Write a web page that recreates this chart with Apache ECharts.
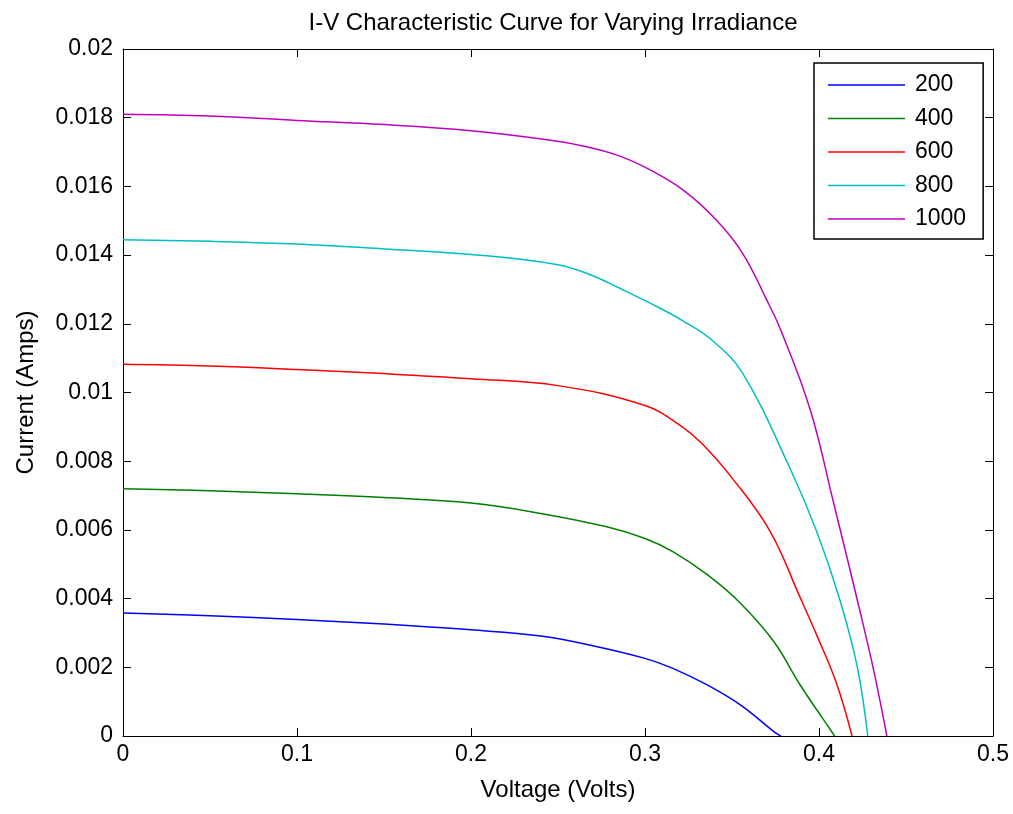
<!DOCTYPE html>
<html><head><meta charset="utf-8">
<script src="https://cdn.jsdelivr.net/npm/echarts@6/dist/echarts.min.js"></script>
<style>html,body{margin:0;padding:0;background:#fff}#c{width:1013px;height:814px}</style>
</head><body><div id="c"></div>
<script>
const seriesNames = ['200', '400', '600', '800', '1000'];
const xTicks = [0, 0.1, 0.2, 0.3, 0.4, 0.5];
const iv200 = [[0,0.00358],[0.05,0.00350],[0.1,0.00339],[0.15,0.00326],[0.2,0.00309],[0.24,0.00291],[0.268,0.00265],[0.3,0.00226],[0.316,0.00197],[0.336,0.00148],[0.355,0.00090],[0.374,0.00013],[0.378,0]];
const iv400 = [[0,0.00720],[0.05,0.00714],[0.1,0.00705],[0.15,0.00694],[0.2,0.00678],[0.24,0.00648],[0.278,0.00609],[0.3,0.00575],[0.316,0.00537],[0.336,0.00469],[0.355,0.00386],[0.374,0.00275],[0.389,0.00150],[0.402,0.00052],[0.409,0]];
const iv600 = [[0,0.01082],[0.05,0.01077],[0.1,0.01067],[0.15,0.01055],[0.2,0.01040],[0.25,0.01020],[0.3,0.00962],[0.32,0.00905],[0.333,0.00850],[0.351,0.00745],[0.372,0.00595],[0.389,0.00405],[0.399,0.00290],[0.41,0.00154],[0.419,0]];
const iv800 = [[0,0.01445],[0.05,0.01440],[0.1,0.01432],[0.15,0.01418],[0.2,0.01402],[0.25,0.01372],[0.27,0.01340],[0.284,0.01307],[0.303,0.01260],[0.322,0.01208],[0.339,0.01150],[0.356,0.01057],[0.383,0.00783],[0.399,0.00591],[0.412,0.00396],[0.422,0.00201],[0.428,0]];
const iv1000 = [[0,0.01810],[0.05,0.01805],[0.1,0.01792],[0.15,0.01780],[0.2,0.01762],[0.245,0.01735],[0.265,0.01717],[0.284,0.01691],[0.303,0.01648],[0.322,0.01589],[0.341,0.01502],[0.356,0.01406],[0.37,0.01269],[0.378,0.01182],[0.395,0.00949],[0.408,0.00687],[0.422,0.00396],[0.431,0.00201],[0.439,0]];
const colors = ['#0000ff', '#008000', '#ff0000', '#00bfbf', '#bf00bf'];
const allData = [iv200, iv400, iv600, iv800, iv1000];

const font = 'Liberation Sans, Arial, sans-serif';
const chart = echarts.init(document.getElementById('c'));
const baseAxis = {
  axisLine: {show: true, onZero: false, lineStyle: {color: '#000', width: 1}},
  axisTick: {show: true, inside: true, length: 8, lineStyle: {color: '#000'}},
  splitLine: {show: false},
  axisLabel: {color: '#000', fontSize: 23, fontFamily: font}
};
chart.setOption({
  animation: false,
  backgroundColor: '#fff',
  title: {text: 'I-V Characteristic Curve for Varying Irradiance', left: 548, textAlign: 'center', top: 6,
    textStyle: {fontSize: 24, fontWeight: 'normal', color: '#000', fontFamily: font}},
  grid: {left: 123, right: 20, top: 49, bottom: 78},
  legend: {
    orient: 'vertical', left: 814, top: 63, data: seriesNames,
    icon: 'rect',
    borderColor: '#000', borderWidth: 1.5, borderRadius: 0, backgroundColor: '#fff',
    padding: [10, 17, 8, 14], itemWidth: 77, itemHeight: 1.5, itemGap: 9.5,
    textStyle: {fontSize: 23, lineHeight: 24, color: '#000', fontFamily: font, padding: [0, 0, 0, 5]}
  },
  xAxis: [
    Object.assign({}, baseAxis, {type: 'value', min: 0, max: 0.5, interval: 0.1, position: 'bottom',
      name: 'Voltage (Volts)', nameLocation: 'middle', nameGap: 42,
      nameTextStyle: {fontSize: 24, color: '#000', fontFamily: font},
      axisLabel: {color: '#000', fontSize: 23, fontFamily: font, margin: 7}}),
    Object.assign({}, baseAxis, {type: 'value', min: 0, max: 0.5, interval: 0.1, position: 'top',
      axisLabel: {show: false}})
  ],
  yAxis: [
    Object.assign({}, baseAxis, {type: 'value', min: 0, max: 0.02, interval: 0.002, position: 'left',
      name: 'Current (Amps)', nameLocation: 'middle', nameGap: 85,
      nameTextStyle: {fontSize: 24, color: '#000', fontFamily: font},
      axisLabel: {color: '#000', fontSize: 23, fontFamily: font, margin: 10}}),
    Object.assign({}, baseAxis, {type: 'value', min: 0, max: 0.02, interval: 0.002, position: 'right',
      axisLabel: {show: false}})
  ],
  series: seriesNames.map((n, i) => ({
    name: n, type: 'line', data: allData[i], xAxisIndex: 0, yAxisIndex: 0,
    symbol: 'none', smooth: 0.4,
    lineStyle: {color: colors[i], width: 1.5}, itemStyle: {color: colors[i]}
  }))
});
</script></body></html>
